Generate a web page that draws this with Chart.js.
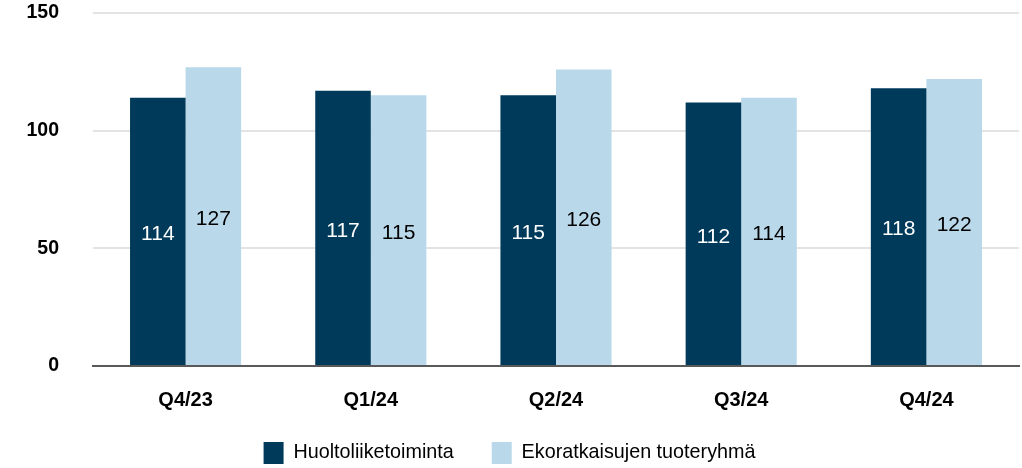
<!DOCTYPE html>
<html>
<head>
<meta charset="utf-8">
<script src="https://cdn.jsdelivr.net/npm/chart.js@4"></script>
<style>
  body { margin: 0; background: #fff; }
  #wrap { width: 1022px; height: 468px; }
</style>
</head>
<body>
<div id="wrap"><canvas id="chart"></canvas></div>
<script>
const quarters = ["Q4/23", "Q1/24", "Q2/24", "Q3/24", "Q4/24"]
const huolto = [114, 117, 115, 112, 118]
const ekoratkaisut = [127, 115, 126, 114, 122]
const yTicks = [0, 50, 100, 150]

const font = "'Liberation Sans', Arial, sans-serif"

// labels in the middle of each bar
const barLabels = {
  id: "barLabels",
  afterDatasetsDraw(chart) {
    const ctx = chart.ctx
    ctx.save()
    ctx.font = "21px " + font
    ctx.textAlign = "center"
    ctx.textBaseline = "middle"
    chart.data.datasets.forEach((ds, i) => {
      ctx.fillStyle = i === 0 ? "#ffffff" : "#000000"
      chart.getDatasetMeta(i).data.forEach((bar, j) => {
        const mid = (bar.y + bar.base) / 2 + 3
        ctx.fillText(ds.data[j], bar.x, mid)
      })
    })
    ctx.restore()
  }
}

// legend keeps wide gaps between items but a small height;
// pull it up so the items sit at the bottom of the canvas
const legendHeight = {
  id: "legendHeight",
  beforeInit(chart) {
    const fit = chart.legend.fit
    chart.legend.fit = function () {
      fit.call(this)
      this.height = 30
    }
  },
  afterLayout(chart) {
    const lg = chart.legend
    lg.top = chart.height - 30 - 34
  }
}

const chart = new Chart("chart", {
  type: "bar",
  data: {
    labels: quarters,
    datasets: [
      {
        label: "Huoltoliiketoiminta",
        data: huolto,
        backgroundColor: "#003a5b",
        categoryPercentage: 0.6,
        barPercentage: 1.0
      },
      {
        label: "Ekoratkaisujen tuoteryhmä",
        data: ekoratkaisut,
        backgroundColor: "#b9d8ea",
        categoryPercentage: 0.6,
        barPercentage: 1.0
      }
    ]
  },
  options: {
    responsive: true,
    maintainAspectRatio: false,
    animation: false,
    layout: { padding: { left: 0, right: 3, top: 0, bottom: 0 } },
    plugins: {
      legend: {
        display: true,
        position: "bottom",
        labels: {
          boxWidth: 20,
          boxHeight: 22,
          padding: 38,
          color: "#000",
          font: { family: font, size: 19.75 }
        }
      },
      tooltip: { enabled: false }
    },
    scales: {
      x: {
        afterFit(scale) { scale.height = 72 },
        grid: { display: false },
        border: { display: true, color: "#595959", width: 2 },
        ticks: {
          color: "#000",
          padding: 14,
          font: { family: font, size: 20, weight: "bold" }
        }
      },
      y: {
        min: 0,
        max: 150,
        afterFit(scale) {
          scale.width = 93
          scale.paddingTop = 13
          scale.paddingBottom = 0
        },
        afterBuildTicks(scale) { scale.ticks = yTicks.map(v => ({ value: v })) },
        grid: { color: "#e3e3e3", lineWidth: 2, drawTicks: false },
        border: { display: false },
        ticks: {
          color: "#000",
          padding: 34,
          font: { family: font, size: 19.5, weight: "bold" }
        }
      }
    }
  },
  plugins: [barLabels, legendHeight]
})
</script>
</body>
</html>
